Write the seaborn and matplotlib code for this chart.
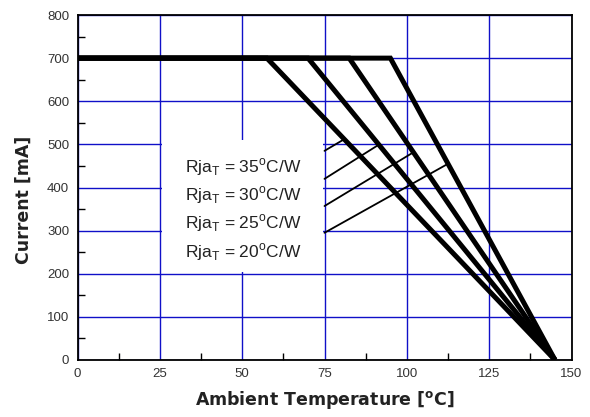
import matplotlib
matplotlib.use("Agg")
import matplotlib.pyplot as plt
import seaborn as sns
import pandas as pd
from matplotlib.patches import Rectangle

# Derating curves: flat at rated current up to the knee, then linear to zero
rja_values = [35, 30, 25, 20]            # thermal resistance, °C/W
knee_temps = [57.5, 70.0, 82.5, 95.0]    # °C where derating begins
zero_temp = 145.0                        # °C where current reaches zero
rated_current = 700                      # mA

# Leader lines from the label block to each curve
leader_start_y = [485, 420, 357, 295]    # mA at T = 75 °C
leader_end_x = [81.0, 91.5, 102.0, 112.5]

label_y = [448, 382, 318, 251]

x_ticks = [0, 25, 50, 75, 100, 125, 150]
y_ticks = [0, 100, 200, 300, 400, 500, 600, 700, 800]

rows = []
for r, k in zip(rja_values, knee_temps):
    for t, i in [(0, rated_current), (k, rated_current), (zero_temp, 0)]:
        rows.append({"rja": r, "temp": t, "current": i})
df = pd.DataFrame(rows)

sns.set_theme(style="white")
plt.rcParams["font.family"] = ["Liberation Sans", "DejaVu Sans"]
plt.rcParams["mathtext.fontset"] = "custom"
plt.rcParams["mathtext.rm"] = "Liberation Sans"

fig = plt.figure(figsize=(5.9, 4.17), dpi=100)
ax = fig.add_axes([77.5 / 590, 1 - 360 / 417, 494 / 590, 345 / 417])

sns.lineplot(data=df, x="temp", y="current", units="rja", estimator=None,
             color="black", lw=3.6, sort=False, ax=ax, zorder=4,
             solid_joinstyle="miter", solid_capstyle="butt")


def curve(t, k):
    if t <= k:
        return rated_current
    return rated_current * (zero_temp - t) / (zero_temp - k)


for y0, xe, k in zip(leader_start_y, leader_end_x, knee_temps):
    ax.plot([75, xe], [y0, curve(xe, k)], color="black", lw=1.3, zorder=3)

ax.set_xlim(0, 150)
ax.set_ylim(0, 800)
ax.set_xticks(x_ticks)
ax.set_yticks(y_ticks)
ax.set_xticks([12.5, 37.5, 62.5, 87.5, 112.5, 137.5], minor=True)
ax.set_yticks([50, 150, 250, 350, 450, 550, 650, 750], minor=True)
ax.tick_params(which="both", direction="in", color="black",
               labelcolor="#333333", labelsize=9.5)
ax.tick_params(which="major", length=0, pad=6)
ax.tick_params(which="minor", length=5, width=1)
ax.tick_params(axis="both", which="both", bottom=True, left=True, top=False, right=False)

ax.set_axisbelow(True)
ax.grid(True, which="major", color="#1010c8", lw=1.0)
for s in ax.spines.values():
    s.set_color("black")
    s.set_linewidth(1.3)
    s.set_zorder(5)

# White block behind the legend text
ax.add_patch(Rectangle((25.6, 205), 48.8, 305, facecolor="white",
                       edgecolor="none", zorder=1))

for r, y in zip(rja_values, label_y):
    ax.text(32.6, y, r"Rja$_{\mathregular{T}}$ = %d$^{\mathregular{o}}$C/W" % r,
            fontsize=12.5, color="#222222", va="center", ha="left", zorder=6)

ax.set_xlabel(r"Ambient Temperature [$^{\mathregular{o}}$C]",
              fontsize=12.5, fontweight="bold", family="DejaVu Sans", color="#222222")
ax.set_ylabel("Current [mA]", fontsize=12.5, fontweight="bold",
              family="DejaVu Sans", color="#222222")
ax.xaxis.set_label_coords(0.5, -0.085)
ax.yaxis.set_label_coords(-0.09, 0.464)

fig.savefig("out.png", dpi=100)
